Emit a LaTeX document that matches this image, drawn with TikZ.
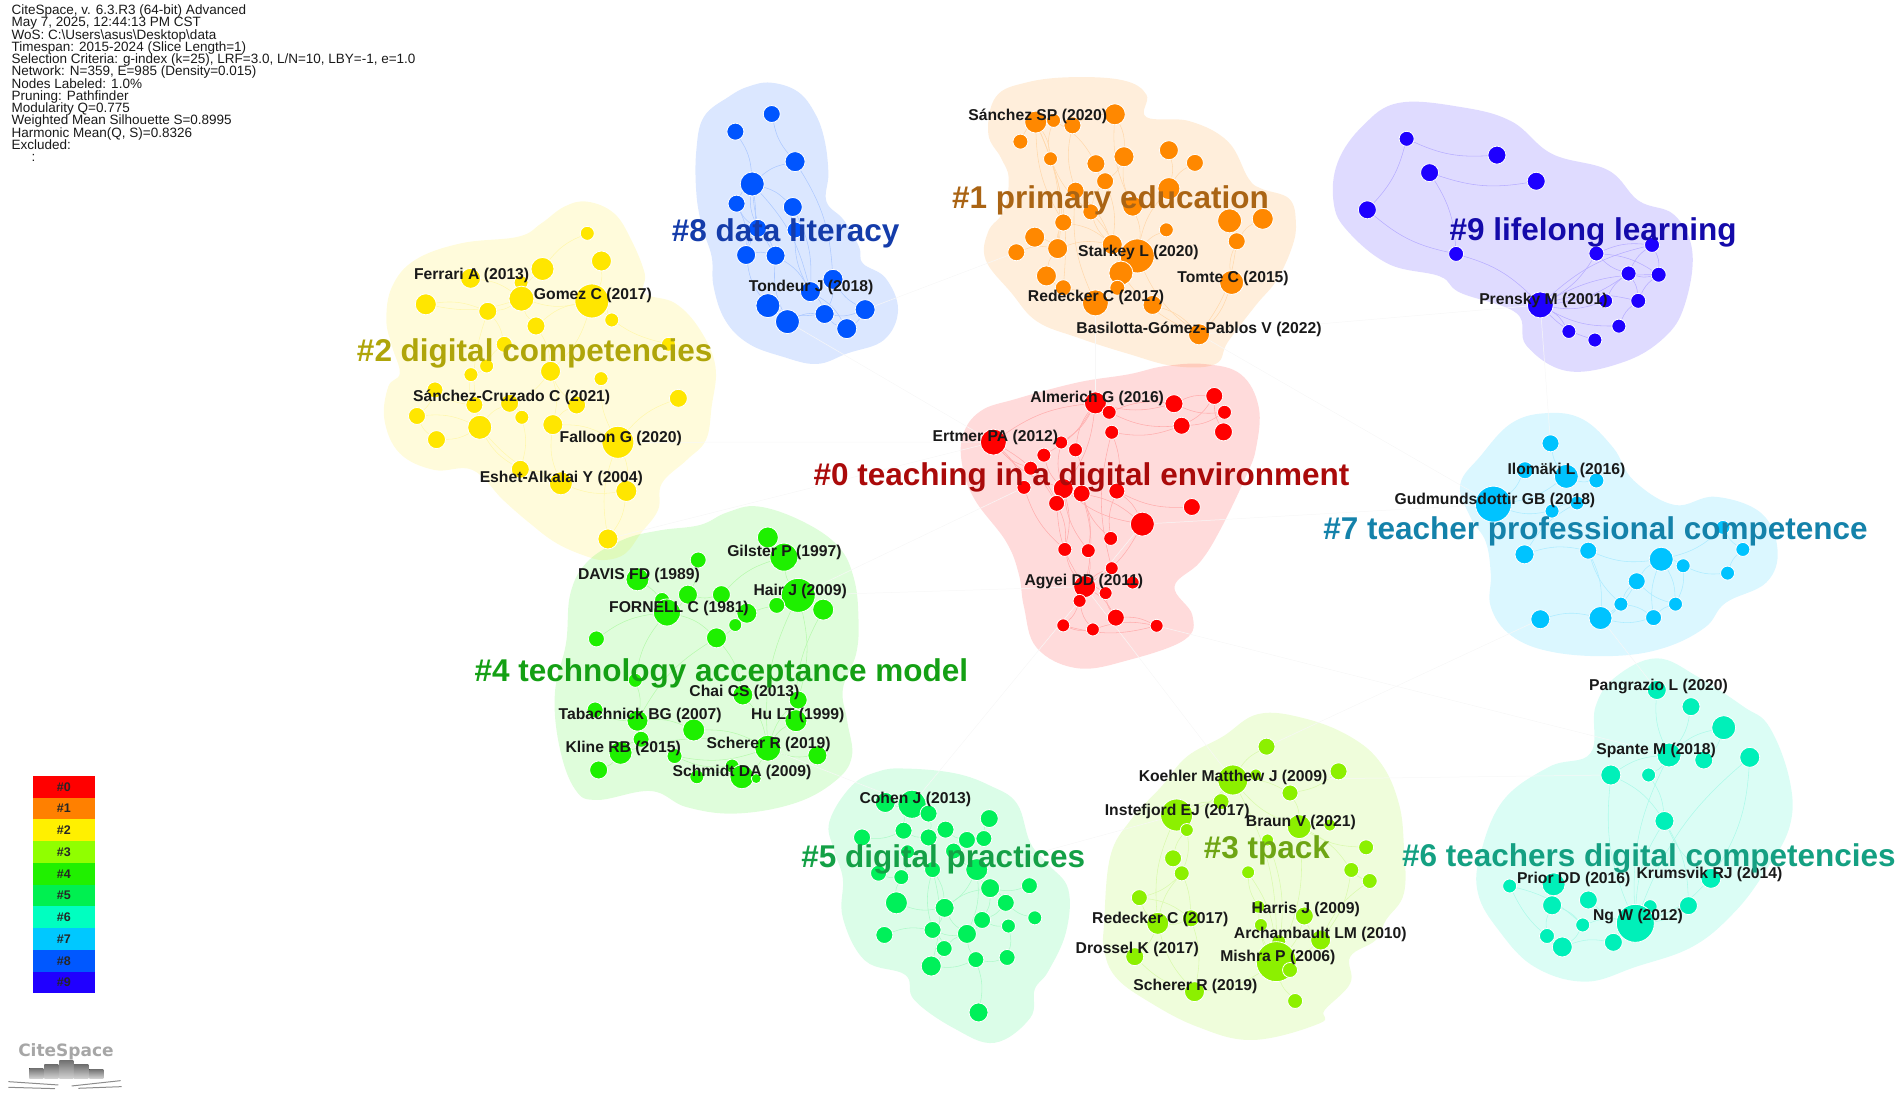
\documentclass[tikz,border=0pt]{standalone}
\usepackage{fontspec}
\setmainfont{Liberation Sans}
\newfontfamily\logofont{DejaVu Sans}
\pgfdeclarelayer{hull}
\pgfdeclarelayer{edge}
\pgfdeclarelayer{text}
\pgfsetlayers{hull,edge,main,text}
\definecolor{c0}{RGB}{255,0,0}
\definecolor{c1}{RGB}{255,136,0}
\definecolor{c2}{RGB}{255,230,0}
\definecolor{c3}{RGB}{140,240,0}
\definecolor{c4}{RGB}{30,240,0}
\definecolor{c5}{RGB}{0,240,90}
\definecolor{c6}{RGB}{0,240,185}
\definecolor{c7}{RGB}{0,195,255}
\definecolor{c8}{RGB}{0,85,255}
\definecolor{c9}{RGB}{30,0,255}
\definecolor{t0}{RGB}{170,10,10}
\definecolor{t1}{RGB}{170,100,20}
\definecolor{t2}{RGB}{175,165,10}
\definecolor{t3}{RGB}{110,165,20}
\definecolor{t4}{RGB}{20,160,20}
\definecolor{t5}{RGB}{20,160,70}
\definecolor{t6}{RGB}{20,160,130}
\definecolor{t7}{RGB}{20,130,170}
\definecolor{t8}{RGB}{20,60,170}
\definecolor{t9}{RGB}{20,10,170}
\definecolor{l0}{RGB}{255,0,0}
\definecolor{l1}{RGB}{255,128,0}
\definecolor{l2}{RGB}{255,240,0}
\definecolor{l3}{RGB}{144,255,0}
\definecolor{l4}{RGB}{32,240,0}
\definecolor{l5}{RGB}{0,240,80}
\definecolor{l6}{RGB}{0,255,192}
\definecolor{l7}{RGB}{0,200,255}
\definecolor{l8}{RGB}{0,88,255}
\definecolor{l9}{RGB}{32,0,255}
\tikzset{
  zA/.style={shift={(350pt,-60pt)},x=.3827pt,y=-.3333pt},
  zB/.style={shift={(950pt,-60pt)},x=.5102pt,y=-.4082pt},
  zC/.style={shift={(450pt,-500pt)},x=.4464pt,y=-.3571pt},
  zD/.style={shift={(1100pt,-640pt)},x=.5108pt,y=-.3333pt},
  zE/.style={shift={(0pt,-750pt)},x=.3333pt,y=-.3333pt},
  disp/.style={x=1.2124pt,y=-1.2124pt},
  cnode/.style={circle,draw=white,line width=.8pt,inner sep=0pt},
  reflabel/.style={font=\fontsize{15.7}{17}\selectfont\bfseries,text=black!90,inner sep=0pt,yshift=-1.2pt},
  clabel/.style={font=\fontsize{#1}{33}\selectfont\bfseries,inner sep=0pt,yshift=-2pt},
  infoline/.style={anchor=base west,inner sep=0pt,font=\fontsize{13.5}{15}\selectfont,text=black!90},
  legcell/.style={minimum width=62.7pt,minimum height=21.75pt,inner sep=0pt,anchor=north west,font=\fontsize{12.5}{14}\selectfont\bfseries,text=black!85},
  logobar/.style={bottom color=black!18,top color=black!55,draw=none},
  logoline/.style={draw=black!45,line width=1pt}
}
\newcommand\hullshape[2]{\begin{pgfonlayer}{hull}\fill[#1,fill opacity=.14] plot[smooth cycle,tension=.65] coordinates {#2};\end{pgfonlayer}}
\newcommand\clusternodes[3]{\foreach[count=\i] \x/\y/\r in {#3} {\node[cnode,fill=#2,minimum size={2*\r*1pt}] (n#1-\i) at (\x,\y) {};}}
\newcommand\clusteredges[3]{\begin{pgfonlayer}{edge}\foreach \a/\b [count=\k] in {#3} {\pgfmathtruncatemacro\bb{mod(\k,2)==0 ? 14 : -14}\draw[#2!32!white,line width=.55pt] (n#1-\a) to[bend left=\bb] (n#1-\b);}\end{pgfonlayer}}
\begin{document}
\begin{tikzpicture}
\path[use as bounding box] (0pt,0pt) rectangle (1901pt,-1095pt);

% cluster 8
\begin{scope}[zA]
\hullshape{c8}{(1100,68) (1170,95) (1215,160) (1240,240) (1250,340) (1245,425) (1290,480) (1330,560) (1340,610) (1400,655) (1432,750) (1395,840) (1300,880) (1220,912) (1130,890) (1040,850) (980,780) (950,680) (945,590) (920,500) (905,400) (905,270) (925,170) (990,110) (1040,80)}
\clusternodes{8}{c8}{1102/162/8.5,1007/215/8.5,1163/305/10,1051/372/12,1010/431/8.5,1157/441/9.5,1065/505/9,1163/510/8,1035/585/9.5,1112/587/9.5,1262/658/10,1203/695/10,1092/737/12,1143/785/12,1240/762/9.5,1346/749/10,1298/806/10}
\clusteredges{8}{c8}{1/3,2/4,3/4,3/11,4/5,4/6,4/7,4/9,4/10,4/12,5/7,5/9,6/8,6/12,7/9,7/10,8/12,9/10,9/13,10/12,10/14,11/15,11/16,12/15,13/15,14/15,15/16,16/17,15/17,12/17}
% cluster 2
\hullshape{c2}{(620,425) (690,460) (735,540) (770,640) (770,700) (850,730) (915,810) (955,920) (945,1040) (930,1140) (880,1200) (815,1270) (805,1350) (760,1420) (720,1480) (669,1500) (620,1490) (540,1450) (470,1390) (400,1320) (320,1230) (220,1230) (130,1180) (90,1080) (100,980) (130,940) (110,860) (95,780) (110,680) (170,600) (290,550) (440,530) (500,490) (560,440)}
\clusternodes{2}{c2}{620/520/7,657/603/10,503/627/11.5,315/655/10,447/668/7,198/733/10.5,448/716/12.5,632/723/17,360/754/9,684/780/7,486/798/9,403/853/8,832/853/7,357/918/7,316/944/7,524/934/10,656/956/7,222/990/8,858/1015/9,325/1035/8.5,417/1030/9,592/1035/9,175/1068/8.5,449/1072/7,339/1102/12,530/1094/10,226/1139/9,700/1147/16,445/1228/9,551/1270/11.5,722/1293/10.5,674/1437/10}
\clusteredges{2}{c2}{1/3,2/8,3/7,4/7,6/7,6/9,7/8,7/9,7/11,8/10,8/11,8/16,8/13,9/12,9/25,11/16,12/14,14/15,15/20,16/21,16/22,16/26,17/28,18/23,18/20,20/25,21/25,21/24,22/26,23/25,23/27,25/27,25/29,24/29,26/30,28/19,28/26,28/31,28/32,29/30,30/31,31/32,25/30}
\end{scope}

\begin{scope}[zB]
% cluster 1
\hullshape{c1}{(240,42) (340,50) (385,85) (385,140) (470,150) (545,200) (585,290) (610,315) (665,340) (678,400) (670,460) (640,540) (600,600) (545,690) (520,745) (440,750) (350,720) (250,680) (170,640) (120,570) (70,490) (75,420) (105,370) (115,290) (100,240) (75,180) (90,90) (150,55)}
\clusternodes{1}{c1}{323/133/10.5,168/152/11,203/148/7,240/160/8.5,138/200/7.5,197/242/7,286/254/9,341/237/10,429/221/9.5,480/252/8.5,304/297/8.5,246/320/8.5,429/315/11,358/358/10,276/372/8,222/398/8.5,424/416/7,548/394/12,613/389/10.5,166/434/10,562/444/8.5,211/462/10,130/471/8.5,318/452/10,367/480/17,335/522/12,189/529/10,222/558/8,328/558/7.5,552/545/12,285/595/13,397/600/9.5,488/672/10.5}
\clusteredges{1}{c1}{1/4,1/8,1/14,2/6,2/16,2/22,3/6,3/7,4/12,5/2,6/15,6/22,7/11,8/11,8/14,9/13,10/13,11/24,11/15,12/24,13/25,14/25,15/24,15/26,16/22,16/24,17/25,18/21,19/21,20/22,21/30,22/24,22/27,23/22,24/25,24/26,25/26,26/29,27/31,28/31,29/31,30/33,26/33,32/33,25/33,21/33,12/31,2/28}
% cluster 9
\hullshape{c9}{(880,105) (1000,115) (1100,150) (1180,230) (1290,270) (1350,345) (1420,380) (1455,470) (1440,600) (1400,680) (1320,740) (1210,762) (1130,700) (1110,620) (1000,570) (960,530) (860,500) (780,420) (752,350) (760,250) (810,160)}
\clusternodes{9}{c9}{895/193/7.5,1072/233/9,940/276/9,1149/297/9,818/367/9,992/475/7.5,1267/474/7.5,1376/453/7.5,1330/523/7.5,1389/526/7.5,1157/600/13,1285/590/7,1349/590/7.5,1311/652/7,1213/665/7,1264/686/7}
\clusteredges{9}{c9}{1/2,1/5,3/4,3/6,5/6,6/11,11/7,11/8,11/9,11/10,11/12,11/13,11/14,11/15,11/16,7/8,7/9,7/10,8/9,8/10,9/10,9/13,10/13,12/9,13/14}
% cluster 0
\hullshape{c0}{(500,745) (570,770) (605,850) (600,950) (580,1020) (530,1150) (490,1230) (440,1290) (475,1360) (460,1420) (350,1470) (250,1490) (170,1440) (145,1340) (135,1260) (110,1180) (50,1080) (25,1000) (25,920) (60,860) (130,830) (250,790) (350,770) (420,750)}
\clusternodes{0}{c0}{285/840/11,439/842/9,518/823/8.5,312/863/7,538/863/7,454/896/8.5,536/911/9,317/912/7,85/936/13,218/937/6.5,246/955/7,184/968/7,158/1000/7,145/1047/7,222/1050/10,258/1062/8.5,327/1056/8,209/1086/8,474/1095/8.5,377/1137/12,315/1172/7,225/1199/7,271/1202/7,317/1245/6.5,264/1290/11,305/1306/6.5,358/1280/6.5,254/1325/6.5,325/1366/8.5,222/1385/6.5,280/1395/6.5,405/1386/6.5}
\clusteredges{0}{c0}{1/9,1/10,1/11,1/12,1/4,1/15,1/2,2/3,2/5,3/6,3/7,4/2,4/6,5/6,8/6,8/17,9/13,9/14,9/15,9/18,10/15,11/16,12/15,13/18,14/22,15/16,15/20,15/22,15/23,16/20,16/21,16/23,17/19,17/20,17/21,18/22,18/25,16/25,22/25,23/25,24/25,25/26,25/28,25/29,26/29,28/30,28/31,29/32,30/31,31/32,30/32,20/25,8/24}
% cluster 7
\hullshape{c7}{(1170,865) (1240,880) (1300,950) (1340,1030) (1420,1090) (1500,1070) (1590,1110) (1622,1200) (1600,1280) (1520,1330) (1480,1390) (1400,1440) (1300,1460) (1180,1450) (1100,1410) (1060,1340) (1060,1260) (1050,1180) (1020,1120) (1000,1040) (1040,970) (1100,890)}
\clusternodes{7}{c7}{1177/939/8.5,1127/1005/8.5,1208/1020/12,1267/1030/7.5,1065/1088/18,1180/1105/7,1229/1085/7,1515/1145/7,1554/1199/7,1126/1211/9.5,1251/1202/8.5,1394/1223/12,1437/1239/7,1524/1257/7,1346/1277/8.5,1315/1333/7,1422/1333/7,1157/1370/9.5,1275/1367/11.5,1379/1366/8}
\clusteredges{7}{c7}{1/3,2/5,3/4,3/5,5/6,6/7,8/9,8/12,9/14,10/11,11/12,11/19,11/16,12/13,12/15,12/17,13/14,13/17,15/16,15/19,15/17,16/20,17/20,18/19,19/20,16/19,12/20,10/7}
\end{scope}

\begin{scope}[zC]
% cluster 4
\hullshape{c4}{(690,18) (790,60) (870,130) (905,220) (915,330) (910,430) (880,530) (890,620) (900,720) (860,790) (770,850) (640,878) (530,860) (450,815) (330,840) (280,810) (245,690) (235,540) (260,400) (270,260) (310,170) (390,110) (470,85) (560,70) (620,35)}
\clusternodes{4}{c4}{712/105/10.5,556/168/8,748/160/14,420/222/11.5,533/265/9.5,608/265/9,475/280/7.5,780/267/17,486/315/13.5,665/317/10,732/295/8,836/307/10.5,639/350/6.5,328/389/8,597/386/10,415/505/7,656/546/10,780/560/9,325/588/8,420/618/10.5,775/618/11,546/644/11,428/670/8,382/708/11.5,712/695/13,503/717/7.5,823/715/9.5,333/756/9,632/745/7,654/775/12,553/775/7,686/780/5}
\clusteredges{4}{c4}{1/3,2/5,3/8,4/9,5/6,5/9,6/10,6/3,7/9,8/11,8/12,9/15,9/14,10/13,11/13,13/15,9/16,15/17,15/20,8/18,12/21,16/20,19/20,17/25,18/25,20/22,21/25,22/25,23/24,24/25,25/27,25/30,26/29,29/30,30/32,24/28,26/25,31/30,8/25}
% cluster 5
\hullshape{c5}{(1020,752) (1130,765) (1210,800) (1270,850) (1300,960) (1340,1020) (1385,1090) (1380,1210) (1340,1320) (1310,1370) (1300,1450) (1220,1520) (1130,1480) (1040,1400) (1020,1330) (930,1290) (880,1170) (880,1060) (860,980) (850,900) (900,800) (960,760)}
\clusternodes{5}{c5}{975/847/10,1035/852/14,1072/878/8.5,1208/892/9,1016/926/8.5,923/945/8.5,1072/945/8.5,1110/923/8.5,1158/952/8.5,1196/948/8,1128/983/8,1025/985/7,1081/1035/8,1180/1035/11,960/1045/8,1011/1056/7.5,1210/1087/9.5,1298/1080/8,1000/1128/11,1245/1128/8.5,1108/1142/9.5,1192/1176/8.5,1310/1170/7,973/1218/8.5,1081/1204/8.5,1158/1215/9.5,1251/1193/7,1107/1256/8,1078/1305/10,1178/1287/8,1248/1281/8,1184/1435/9.5}
\clusteredges{5}{c5}{1/2,2/3,2/5,3/7,4/10,5/6,5/7,7/8,8/9,9/10,9/11,7/13,11/14,12/16,15/16,13/21,14/17,14/21,17/18,17/20,17/21,17/22,19/21,20/22,20/23,21/25,21/26,22/26,22/27,24/25,25/26,25/28,26/28,28/29,26/30,27/31,30/31,30/32,13/25,13/29,16/19,14/26,29/30}
\end{scope}

\begin{scope}[zD]
% cluster 3
\hullshape{c3}{(310,222) (400,235) (490,290) (550,370) (585,490) (595,620) (595,760) (560,840) (540,900) (490,950) (490,1030) (440,1110) (430,1150) (300,1200) (190,1160) (90,1080) (30,1010) (8,930) (8,850) (20,650) (60,540) (120,440) (170,350) (240,290)}
\clusternodes{3}{c3}{326/320/8.5,467/394/8.5,260/420/15,305/405/6,372/459/8,237/485/8,150/525/16,170/570/6.5,450/555/6,390/560/12,521/622/7.5,143/655/8.5,160/700/7.5,290/697/6.5,492/690/7.5,528/723/7.5,328/600/6,77/773/8,310/800/6.5,400/828/9,113/850/11,178/835/8.5,315/855/6.5,432/900/10,350/905/7,345/965/20,372/990/7.5,68/950/9,185/1055/10,382/1083/7.5}
\clusteredges{3}{c3}{1/3,2/5,3/4,3/5,3/6,3/7,3/10,5/10,6/7,7/8,8/12,8/13,9/10,10/26,10/11,10/15,13/21,13/18,14/19,14/26,15/16,15/24,16/24,17/26,18/21,18/22,19/26,20/26,21/22,21/28,21/29,22/29,23/26,24/26,25/26,26/27,26/30,26/29,28/29,12/22,7/21,3/26,20/24}
% cluster 6
\hullshape{c6}{(1090,55) (1170,110) (1260,200) (1310,260) (1350,420) (1350,560) (1300,700) (1240,820) (1160,920) (1050,980) (950,1025) (850,980) (780,870) (740,760) (745,640) (790,480) (880,380) (960,340) (970,200) (1010,110)}
\clusternodes{6}{c6}{1090/150/9.5,1157/200/9,1221/263/12,1114/345/12,1182/360/9,1272/352/10,1000/405/10,1074/405/7,1105/543/9.5,1196/715/10,888/733/11.5,802/738/7,885/796/9.5,956/780/9,1152/797/9,1077/800/7,945/855/7,1048/850/19,875/888/7.5,905/921/10,1005/907/9}
\clusteredges{6}{c6}{1/4,2/4,3/4,3/5,4/7,4/8,4/18,6/10,6/18,7/9,7/18,8/9,9/10,9/15,9/18,10/18,11/13,12/17,13/19,13/17,14/18,15/18,16/18,17/18,19/20,20/21,18/21,17/20,12/20}
\end{scope}

% faint links between clusters
\begin{pgfonlayer}{edge}
\foreach \p/\q in {n0-9/n2-28,n0-20/n5-2,n0-25/n3-3,n0-25/n4-8,n0-1/n1-31,n0-20/n7-5,n7-19/n6-1,n3-3/n6-7,n3-7/n5-14,n1-33/n7-5,n9-11/n7-1,n2-32/n0-9,n4-25/n5-2,n4-8/n0-14,n8-14/n0-9,n8-16/n1-23,n1-33/n9-11,n6-4/n0-32,n3-1/n7-18}
  {\draw[black!3,line width=.5pt] (\p) -- (\q);}
\end{pgfonlayer}

\begin{pgfonlayer}{text}
\begin{scope}[disp]
\foreach[count=\i] \x/\y/\t in {856/95/Sánchez SP (2020),939/207/Starkey L (2020),1017/229/Tomte C (2015),904/244/Redecker C (2017),989/271/Basilotta-Gómez-Pablos V (2022),389/226/Ferrari A (2013),489/243/Gomez C (2017),422/327/Sánchez-Cruzado C (2021),512/361/Falloon G (2020),463/394/Eshet-Alkalai Y (2004),669/236/Tondeur J (2018),1273/247/Prensky M (2001),905/328/Almerich G (2016),821/360/Ertmer PA (2012),894/479/Agyei DD (2011),1292/387/Ilomäki L (2016),1233/412/Gudmundsdottir GB (2018),647/455/Gilster P (1997),527/474/DAVIS FD (1989),660/487/Hair J (2009),560/501/FORNELL C (1981),614/570/Chai CS (2013),528/589/Tabachnick BG (2007),658/589/Hu LT (1999),634/613/Scherer R (2019),514/616/Kline RB (2015),612/636/Schmidt DA (2009),755/658/Cohen J (2013),1017/640/Koehler Matthew J (2009),971/668/Instefjord EJ (2017),1073/677/Braun V (2021),1077/749/Harris J (2009),957/757/Redecker C (2017),1089/770/Archambault LM (2010),938/782/Drossel K (2017),1054/789/Mishra P (2006),986/813/Scherer R (2019),1368/565/Pangrazio L (2020),1366/618/Spante M (2018),1298/724/Prior DD (2016),1410/720/Krumsvik RJ (2014),1351/755/Ng W (2012)}
  {\node[reflabel] (ref\i) at (\x,\y) {\t};}
\node[clabel=31.5,text=t0] (lab0) at (892,392) {\#0 teaching in a digital environment};
\node[clabel=31.5,text=t1] (lab1) at (916,164) {\#1 primary education};
\node[clabel=31.5,text=t2] (lab2) at (441,290) {\#2 digital competencies};
\node[clabel=31.5,text=t3] (lab3) at (1045,700) {\#3 tpack};
\node[clabel=31.5,text=t4] (lab4) at (595,554) {\#4 technology acceptance model};
\node[clabel=31.5,text=t5] (lab5) at (778,707) {\#5 digital practices};
\node[clabel=31.5,text=t6] (lab6) at (1360,706) {\#6 teachers digital competencies};
\node[clabel=31.5,text=t7] (lab7) at (1316,437) {\#7 teacher professional competence};
\node[clabel=31.5,text=t8] (lab8) at (648,191) {\#8 data literacy};
\node[clabel=31.5,text=t9] (lab9) at (1314,190) {\#9 lifelong learning};
\end{scope}
\end{pgfonlayer}

% run information
\foreach[count=\i] \t in {{CiteSpace, v. 6.3.R3 (64-bit) Advanced},{May 7, 2025, 12:44:13 PM CST},{WoS: C:\textbackslash Users\textbackslash asus\textbackslash Desktop\textbackslash data},{Timespan: 2015-2024 (Slice Length=1)},{Selection Criteria: g-index (k=25), LRF=3.0, L/N=10, LBY=-1, e=1.0},{Network: N=359, E=985 (Density=0.015)},{Nodes Labeled: 1.0\%},{Pruning: Pathfinder},{Modularity Q=0.775},{Weighted Mean Silhouette S=0.8995},{Harmonic Mean(Q, S)=0.8326},{Excluded:},{\hspace*{20pt}:}}
  {\node[infoline] (info\i) at (11.5pt,{-14.5pt-(\i-1)*12.27pt}) {\t};}

% legend
\foreach \k in {0,...,9} {\node[legcell,fill=l\k] (leg\k) at (32.3pt,{-775.7pt-\k*21.75pt}) {\#\k};}

% logo
\begin{scope}[zE]
\node[font=\logofont\fontsize{17}{20}\selectfont\bfseries,text=black!35,inner sep=0pt] (logo) at (198,905) {CiteSpace};
\fill[logobar] (88,955) rectangle (130,985);
\fill[logobar] (133,945) rectangle (175,985);
\fill[logobar] (178,932) rectangle (220,985);
\fill[logobar] (222,945) rectangle (265,985);
\fill[logobar] (268,958) rectangle (310,985);
\draw[logoline] (25,995) -- (175,1005);
\draw[logoline] (25,1012) -- (165,1016);
\draw[logoline] (215,1008) -- (362,992);
\draw[logoline] (235,1015) -- (365,1010);
\end{scope}
\end{tikzpicture}
\end{document}
